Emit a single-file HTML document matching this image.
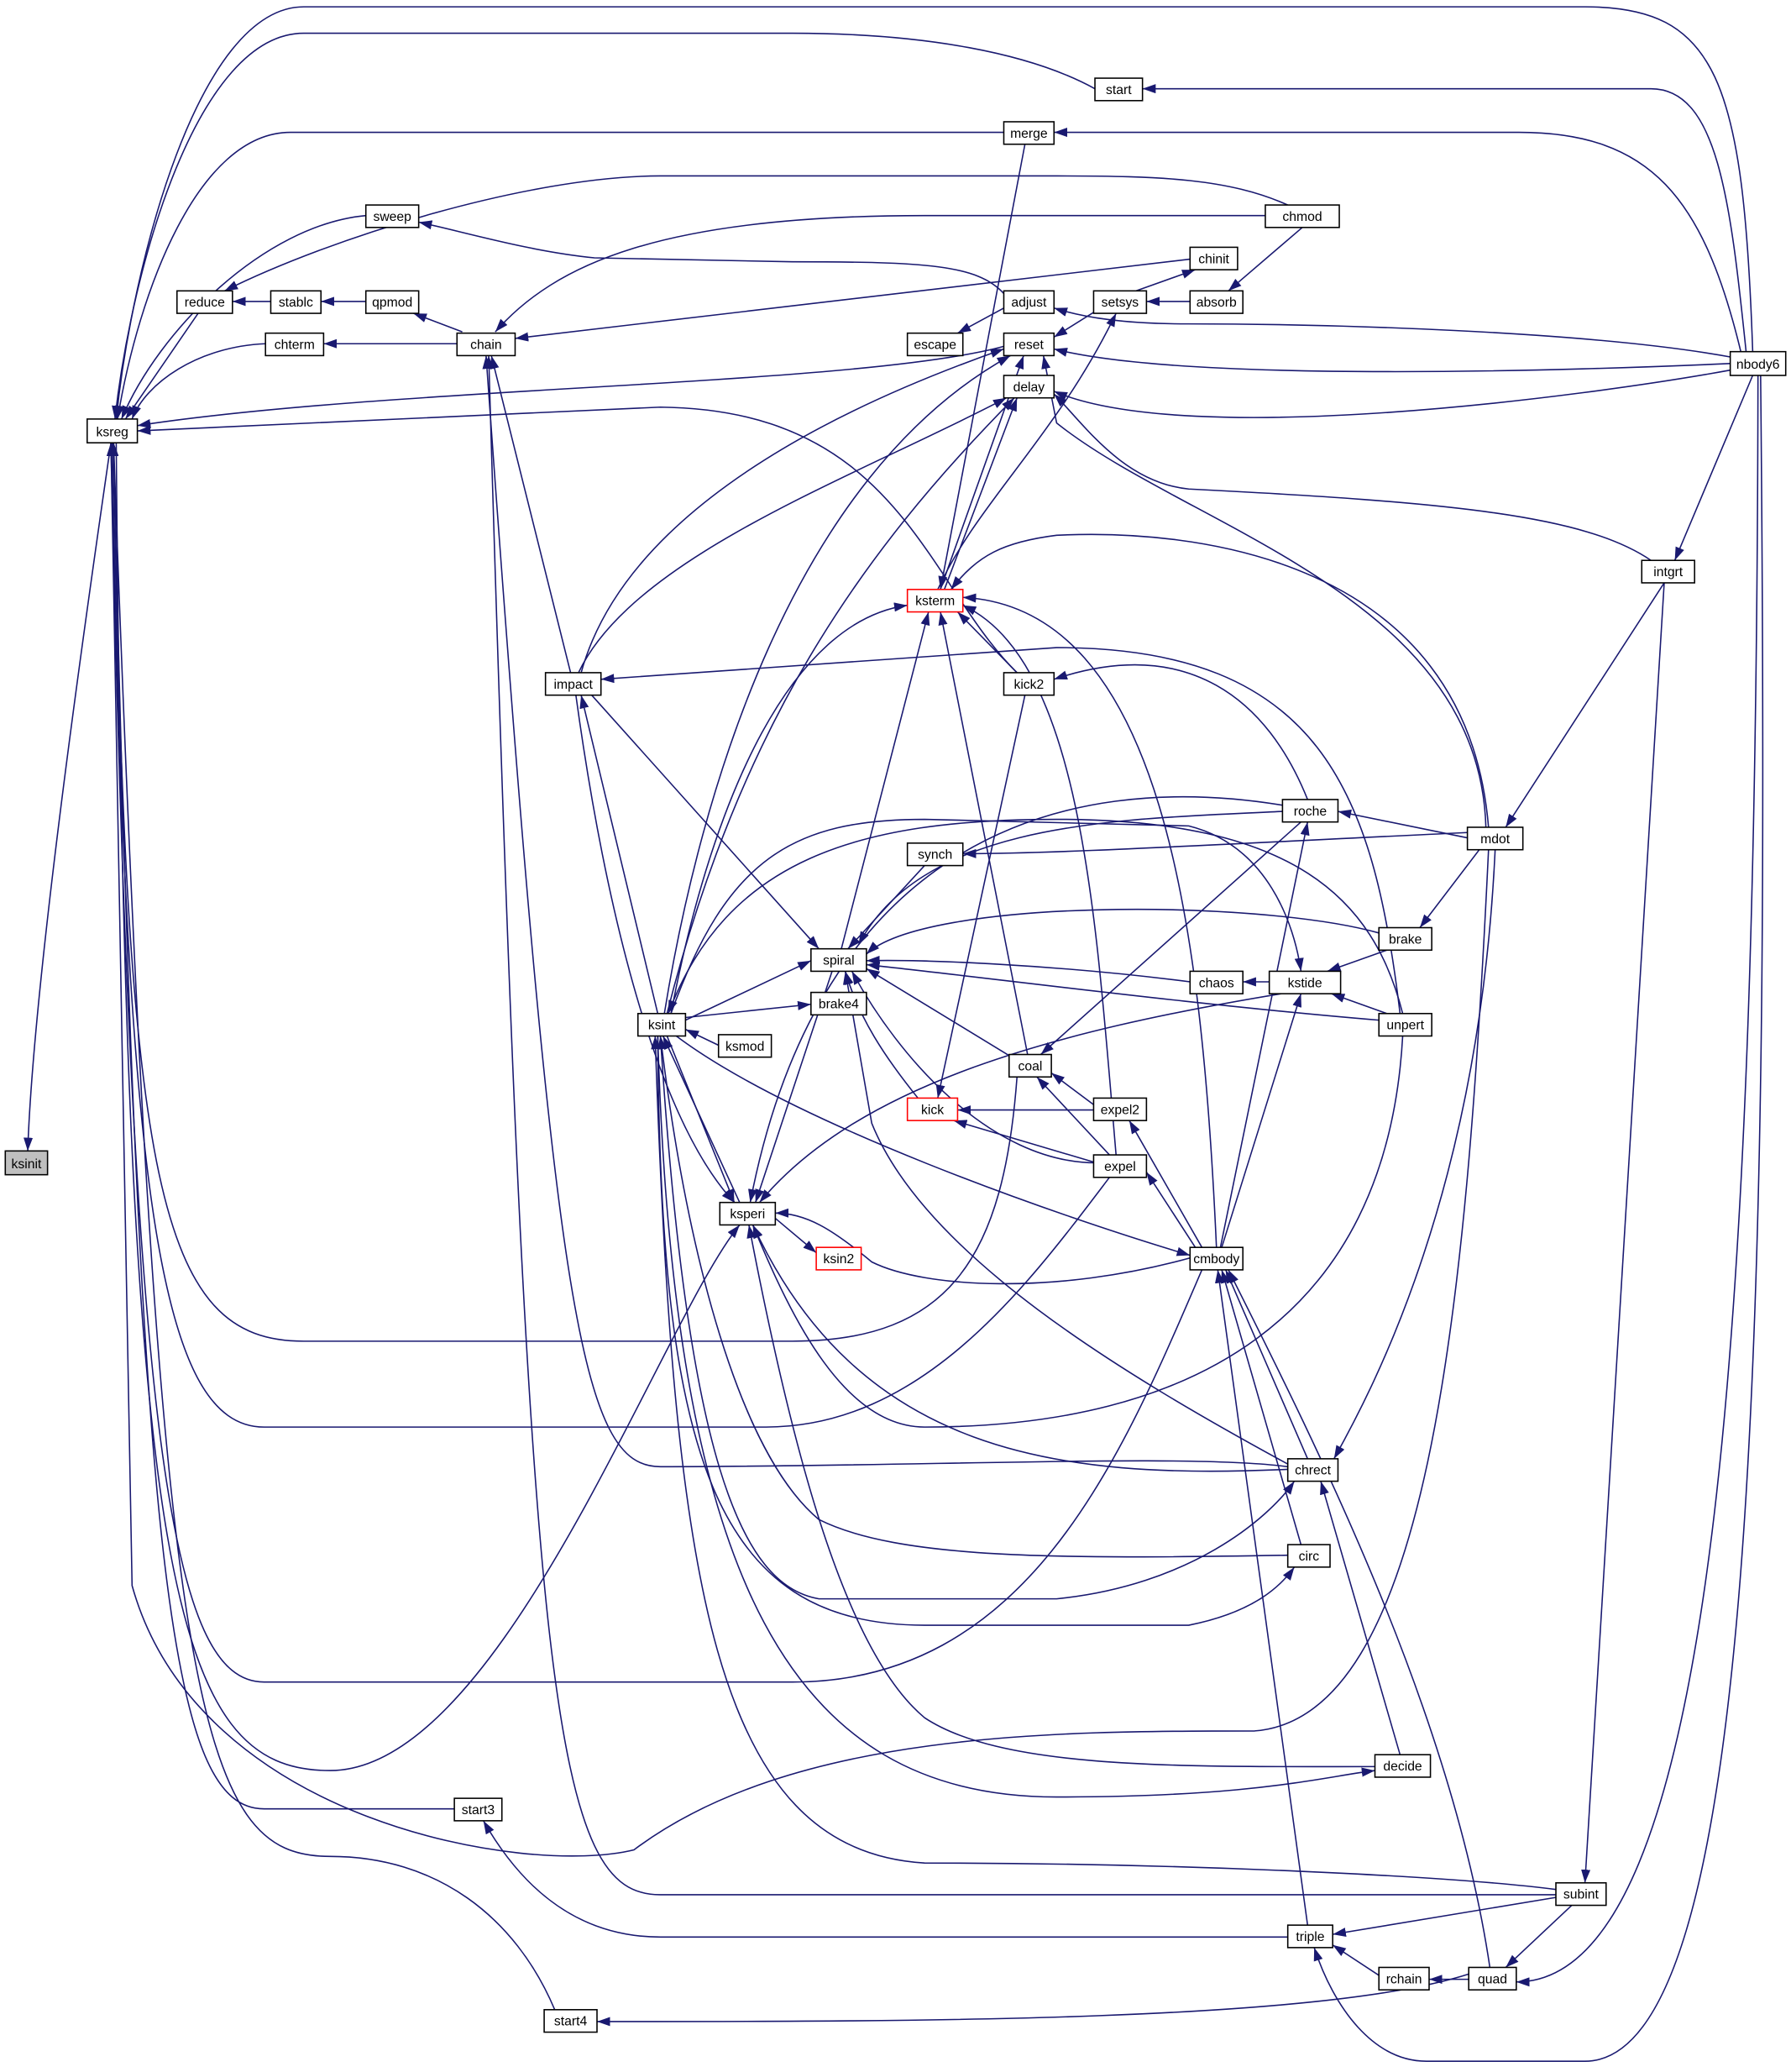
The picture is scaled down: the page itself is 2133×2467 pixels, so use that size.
<!DOCTYPE html>
<html><head><meta charset="utf-8"><style>html,body{margin:0;padding:0;background:#fff}svg{display:block}</style></head>
<body>
<svg width="2133" height="2467" viewBox="0 0 1356 1568" xmlns="http://www.w3.org/2000/svg">
<defs><marker id="a" markerWidth="10" markerHeight="7" refX="10" refY="3.5" orient="auto" markerUnits="userSpaceOnUse"><path d="M0,0 L10,3.5 L0,7 z" fill="#191970"/></marker></defs>
<g fill="none" stroke="#191970" stroke-width="1" marker-end="url(#a)">
<path d="M84 335 C60 500,25 750,21 871"/>
<path d="M1327 266 C1320 60,1300 5,1200 5 L230 5 C150 5,100 200,88 317"/>
<path d="M829 67 C780 40,700 25,600 25 L230 25 C150 25,100 200,87 317"/>
<path d="M760 100 L220 100 C150 100,105 220,89 317"/>
<path d="M277 163 C200 170,120 250,92 317"/>
<path d="M150 237 L95 317"/>
<path d="M201 260 C150 262,110 290,100 317"/>
<path d="M760 262 C650 292,300 292,104 322"/>
<path d="M770 509 C700 440,680 310,500 308 L104 326"/>
<path d="M770 815 C760 950,720 1015,600 1015 L230 1015 C120 1015,95 900,86 335"/>
<path d="M840 891 C780 970,700 1080,580 1080 L200 1080 C120 1080,95 900,85 335"/>
<path d="M910 961 C850 1100,780 1273,600 1273 L200 1273 C130 1273,100 1100,84 335"/>
<path d="M1127 643 C1110 1000,1080 1300,950 1310 C800 1310,600 1310,480 1400 C400 1420,150 1380,100 1200 L84 335"/>
<path d="M88 335 C95 1200,130 1340,250 1340 C380 1340,500 1000,560 927"/>
<path d="M344 1369 L200 1369 C130 1369,105 1200,86 335"/>
<path d="M420 1521 C390 1450,330 1405,250 1405 C150 1405,120 1300,86 335"/>
<path d="M498 784 C510 1200,600 1360,800 1360 C950 1360,1000 1345,1041 1340"/>
<path d="M1041 1337 C900 1337,760 1340,700 1300 C640 1250,600 1100,567 927"/>
<path d="M205 228 L176 228"/>
<path d="M277 228 L243 228"/>
<path d="M350 251 L313 237"/>
<path d="M975 155 C930 135,880 133,800 133 L500 133 C400 133,250 180,170 220"/>
<path d="M760 222 C740 200,700 198,600 198 L450 195 C400 190,350 175,317 168"/>
<path d="M346 260 L245 260"/>
<path d="M958 163 L700 163 C500 163,420 200,375 251"/>
<path d="M901 196 L390 256"/>
<path d="M432 509 L372 269"/>
<path d="M1178 1434 L500 1434 C420 1434,400 1300,370 269"/>
<path d="M975 1110 C900 1100,700 1110,500 1110 C440 1110,420 1000,368 269"/>
<path d="M1322 266 C1310 150,1300 67,1250 67 L865 67"/>
<path d="M1318 266 C1290 150,1250 100,1150 100 L798 100"/>
<path d="M1310 270 C1200 250,1000 245,900 245 C850 245,820 240,798 233"/>
<path d="M1310 275 C1200 280,900 290,798 264"/>
<path d="M1310 280 C1200 300,900 340,798 296"/>
<path d="M1327 284 L1268 424"/>
<path d="M1250 424 C1200 390,1100 380,900 370 C850 365,820 320,798 298"/>
<path d="M986 172 L930 220"/>
<path d="M860 220 L905 204"/>
<path d="M901 228 L868 228"/>
<path d="M760 233 L725 252"/>
<path d="M830 235 L798 255"/>
<path d="M710 446 C740 380,800 330,845 237"/>
<path d="M776 109 L712 446"/>
<path d="M440 509 C470 400,600 320,760 264"/>
<path d="M503 767 C530 600,600 360,765 269"/>
<path d="M1125 626 C1120 450,900 400,800 320 L790 269"/>
<path d="M712 446 L775 269"/>
<path d="M438 509 C480 420,650 360,762 301"/>
<path d="M505 767 C560 550,650 420,768 301"/>
<path d="M715 446 L770 301"/>
<path d="M508 767 C540 600,600 470,687 458"/>
<path d="M637 718 L703 463"/>
<path d="M770 509 L725 463"/>
<path d="M778 798 L712 463"/>
<path d="M845 874 C830 700,820 500,729 458"/>
<path d="M921 944 C910 700,880 460,729 452"/>
<path d="M1127 626 C1110 420,900 400,800 405 C760 410,740 420,720 446"/>
<path d="M1060 767 C1040 600,1000 490,800 490 L455 514"/>
<path d="M498 767 L440 526"/>
<path d="M436 526 C460 700,500 850,556 910"/>
<path d="M448 526 L620 718"/>
<path d="M990 605 C960 530,900 480,798 514"/>
<path d="M776 526 L710 831"/>
<path d="M1111 634 L1013 614"/>
<path d="M971 614 C850 620,700 620,650 715"/>
<path d="M985 622 L788 798"/>
<path d="M924 944 L990 622"/>
<path d="M1111 630 C900 640,800 646,729 646"/>
<path d="M700 655 L642 718"/>
<path d="M1120 643 L1075 702"/>
<path d="M1260 441 L1140 626"/>
<path d="M1132 643 C1120 900,1040 1050,1010 1104"/>
<path d="M1044 706 C950 680,700 680,656 722"/>
<path d="M901 743 C800 730,700 726,656 727"/>
<path d="M961 743 L941 743"/>
<path d="M1044 772 C900 760,750 740,656 730"/>
<path d="M766 800 L656 733"/>
<path d="M695 831 C670 800,650 770,640 735"/>
<path d="M830 880 C750 880,680 800,645 735"/>
<path d="M519 772 L614 727"/>
<path d="M975 1108 C850 1040,700 950,660 850 L640 735"/>
<path d="M630 735 L572 910"/>
<path d="M1050 719 L1005 735"/>
<path d="M1050 767 L1008 752"/>
<path d="M925 944 L985 752"/>
<path d="M508 767 C550 650,600 620,700 620 L900 625 C960 640,980 700,985 735"/>
<path d="M544 791 L519 779"/>
<path d="M519 770 L614 760"/>
<path d="M1062 767 C1040 680,980 620,800 620 C650 620,550 650,506 767"/>
<path d="M512 784 C600 850,800 920,901 950"/>
<path d="M505 784 L556 910"/>
<path d="M560 910 L502 784"/>
<path d="M975 1177 C800 1180,680 1180,620 1150 C560 1100,520 950,500 784"/>
<path d="M1178 1430 C1100 1420,900 1410,700 1410 C540 1400,510 1200,496 784"/>
<path d="M498 784 C500 1100,540 1230,700 1230 L900 1230 C950 1220,970 1200,980 1186"/>
<path d="M500 784 C520 1100,560 1200,620 1210 L800 1210 C900 1200,960 1150,980 1121"/>
<path d="M828 836 L796 812"/>
<path d="M840 874 L785 815"/>
<path d="M828 840 L725 840"/>
<path d="M830 880 L722 848"/>
<path d="M905 944 L868 887"/>
<path d="M910 944 L855 848"/>
<path d="M587 922 L618 948"/>
<path d="M901 952 C800 980,700 975,660 955 C630 930,610 918,587 918"/>
<path d="M975 1112 C800 1120,650 1100,570 927"/>
<path d="M1062 784 C1050 1000,900 1080,700 1080 C640 1080,600 1000,570 927"/>
<path d="M970 752 C800 780,650 820,575 910"/>
<path d="M975 610 C800 580,620 640,568 910"/>
<path d="M990 1104 L928 961"/>
<path d="M985 1169 L925 961"/>
<path d="M990 1457 L922 961"/>
<path d="M1128 1489 C1100 1300,1000 1100,930 961"/>
<path d="M1060 1328 L1000 1121"/>
<path d="M1260 441 L1200 1425"/>
<path d="M1190 1442 L1140 1489"/>
<path d="M1178 1436 L1009 1464"/>
<path d="M1044 1495 L1009 1472"/>
<path d="M1112 1498 L1082 1498"/>
<path d="M1331 284 C1330 1000,1300 1500,1148 1500"/>
<path d="M1333 284 C1340 1000,1330 1560,1200 1560 L1080 1560 C1040 1560,1010 1520,995 1474"/>
<path d="M975 1466 L500 1466 C430 1466,390 1420,366 1378"/>
<path d="M1112 1494 C1000 1530,700 1530,452 1530"/>
</g>
<g font-family="Liberation Sans, sans-serif" font-size="10" text-anchor="middle" stroke-width="1">
<g fill="#fff" stroke="#000">
<rect x="66" y="317" width="38" height="18"/>
<rect x="134" y="220" width="42" height="17"/>
<rect x="205" y="220" width="38" height="17"/>
<rect x="277" y="220" width="40" height="17"/>
<rect x="277" y="155" width="40" height="17"/>
<rect x="201" y="252" width="44" height="17"/>
<rect x="346" y="252" width="44" height="17"/>
<rect x="829" y="59" width="36" height="17"/>
<rect x="760" y="92" width="38" height="17"/>
<rect x="958" y="155" width="56" height="17"/>
<rect x="901" y="187" width="36" height="17"/>
<rect x="760" y="220" width="38" height="17"/>
<rect x="828" y="220" width="40" height="17"/>
<rect x="901" y="220" width="40" height="17"/>
<rect x="687" y="252" width="42" height="17"/>
<rect x="760" y="252" width="38" height="17"/>
<rect x="760" y="284" width="38" height="17"/>
<rect x="1310" y="266" width="42" height="18"/>
<rect x="1243" y="424" width="40" height="17"/>
<rect x="413" y="509" width="42" height="17"/>
<rect x="760" y="509" width="38" height="17"/>
<rect x="971" y="605" width="42" height="17"/>
<rect x="1111" y="626" width="42" height="17"/>
<rect x="687" y="638" width="42" height="17"/>
<rect x="1044" y="702" width="40" height="17"/>
<rect x="614" y="718" width="42" height="17"/>
<rect x="901" y="735" width="40" height="17"/>
<rect x="961" y="735" width="54" height="17"/>
<rect x="614" y="751" width="42" height="17"/>
<rect x="483" y="767" width="36" height="17"/>
<rect x="1044" y="767" width="40" height="17"/>
<rect x="544" y="783" width="40" height="17"/>
<rect x="764" y="798" width="32" height="17"/>
<rect x="828" y="831" width="40" height="17"/>
<rect x="828" y="874" width="40" height="17"/>
<rect x="545" y="910" width="42" height="17"/>
<rect x="901" y="944" width="40" height="17"/>
<rect x="975" y="1104" width="38" height="17"/>
<rect x="975" y="1169" width="32" height="17"/>
<rect x="1041" y="1328" width="42" height="17"/>
<rect x="344" y="1361" width="36" height="17"/>
<rect x="1178" y="1425" width="38" height="17"/>
<rect x="975" y="1457" width="34" height="17"/>
<rect x="1044" y="1489" width="38" height="17"/>
<rect x="1112" y="1489" width="36" height="17"/>
<rect x="412" y="1521" width="40" height="17"/>
</g>
<rect x="4" y="871" width="32" height="18" fill="#bfbfbf" stroke="#000"/>
<g fill="#fff" stroke="#f00">
<rect x="687" y="446" width="42" height="17"/>
<rect x="687" y="831" width="38" height="17"/>
<rect x="618" y="944" width="34" height="17"/>
</g>
<g fill="#000">
<text x="20" y="884">ksinit</text>
<text x="85" y="330">ksreg</text>
<text x="155" y="232">reduce</text>
<text x="224" y="232">stablc</text>
<text x="297" y="232">qpmod</text>
<text x="297" y="167">sweep</text>
<text x="223" y="264">chterm</text>
<text x="368" y="264">chain</text>
<text x="847" y="71">start</text>
<text x="779" y="104">merge</text>
<text x="986" y="167">chmod</text>
<text x="919" y="199">chinit</text>
<text x="779" y="232">adjust</text>
<text x="848" y="232">setsys</text>
<text x="921" y="232">absorb</text>
<text x="708" y="264">escape</text>
<text x="779" y="264">reset</text>
<text x="779" y="296">delay</text>
<text x="1331" y="279">nbody6</text>
<text x="1263" y="436">intgrt</text>
<text x="708" y="458">ksterm</text>
<text x="434" y="521">impact</text>
<text x="779" y="521">kick2</text>
<text x="992" y="617">roche</text>
<text x="1132" y="638">mdot</text>
<text x="708" y="650">synch</text>
<text x="1064" y="714">brake</text>
<text x="635" y="730">spiral</text>
<text x="921" y="747">chaos</text>
<text x="988" y="747">kstide</text>
<text x="635" y="763">brake4</text>
<text x="501" y="779">ksint</text>
<text x="1064" y="779">unpert</text>
<text x="564" y="795">ksmod</text>
<text x="780" y="810">coal</text>
<text x="706" y="843">kick</text>
<text x="848" y="843">expel2</text>
<text x="848" y="886">expel</text>
<text x="566" y="922">ksperi</text>
<text x="635" y="956">ksin2</text>
<text x="921" y="956">cmbody</text>
<text x="994" y="1116">chrect</text>
<text x="991" y="1181">circ</text>
<text x="1062" y="1340">decide</text>
<text x="362" y="1373">start3</text>
<text x="1197" y="1437">subint</text>
<text x="992" y="1469">triple</text>
<text x="1063" y="1501">rchain</text>
<text x="1130" y="1501">quad</text>
<text x="432" y="1533">start4</text>
</g>
</g>
</svg>
</body></html>
